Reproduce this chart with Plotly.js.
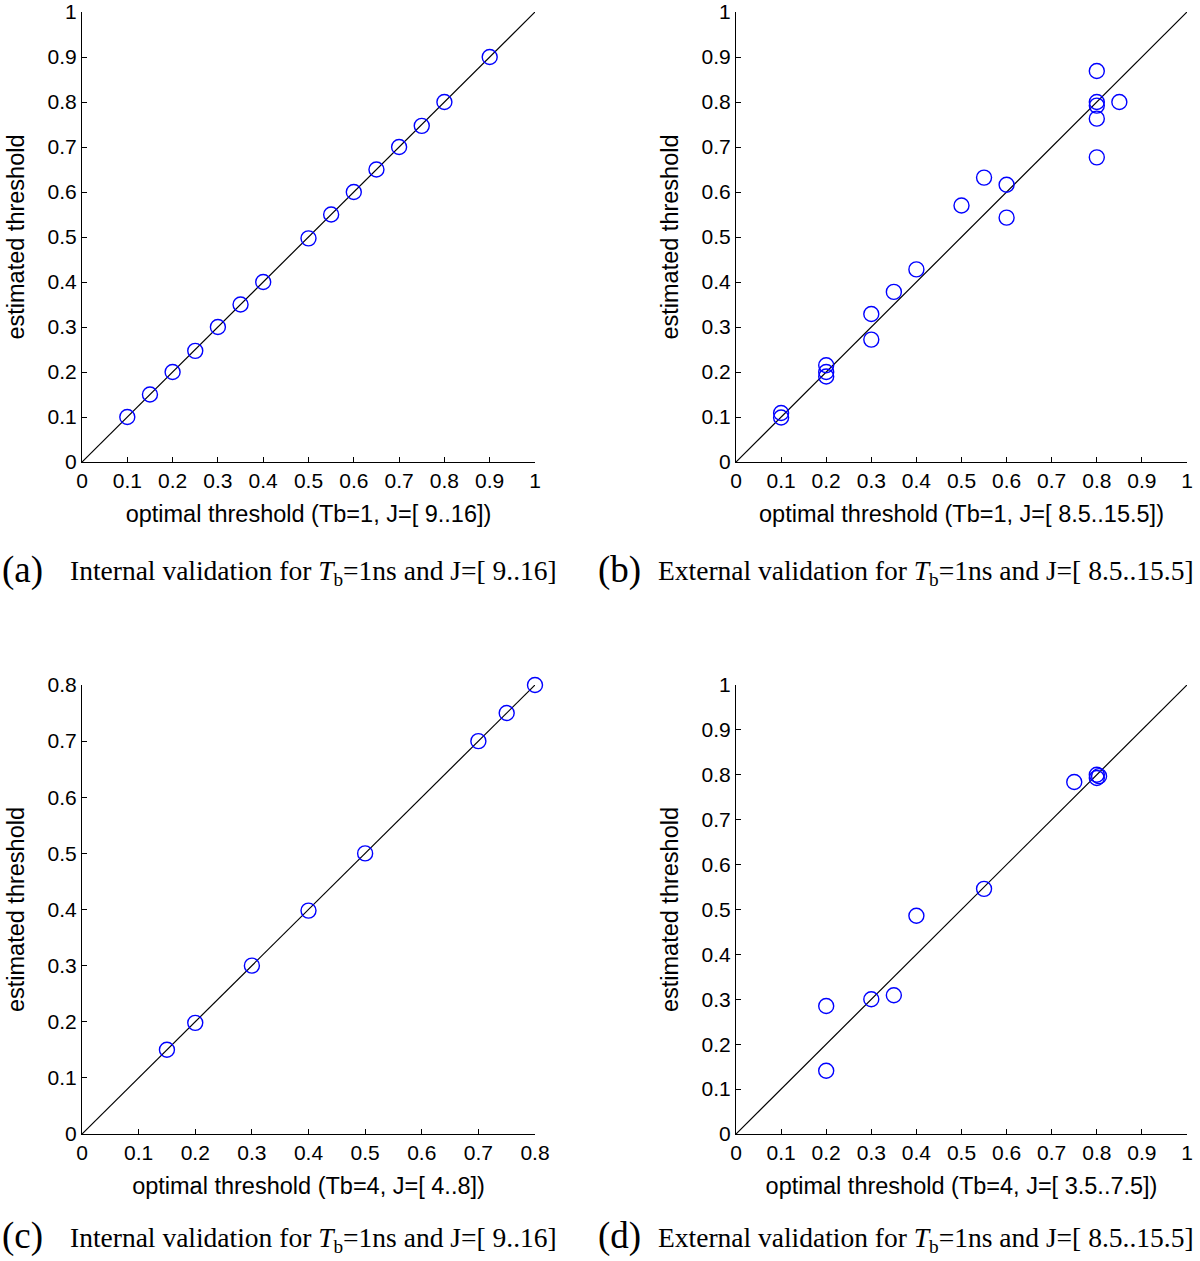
<!DOCTYPE html>
<html>
<head>
<meta charset="utf-8">
<script src="https://cdn.plot.ly/plotly-3.0.1.min.js"></script>
<style>html,body{margin:0;padding:0;background:#fff;}#chart{width:1200px;height:1261px;}</style>
</head>
<body>
<div id="chart"></div>
<script>
// (a) internal validation, Tb=1
const aOptimal   = [0.10, 0.15, 0.20, 0.25, 0.30, 0.35, 0.40, 0.50, 0.55, 0.60, 0.65, 0.70, 0.75, 0.80, 0.90];
const aEstimated = [0.10, 0.15, 0.20, 0.247, 0.30, 0.35, 0.40, 0.497, 0.55, 0.60, 0.65, 0.70, 0.747, 0.80, 0.90];
// (b) external validation, Tb=1
const bOptimal   = [0.10, 0.10, 0.20, 0.20, 0.20, 0.30, 0.30, 0.35, 0.40, 0.50, 0.55, 0.60, 0.60, 0.80, 0.80, 0.80, 0.80, 0.80, 0.85];
const bEstimated = [0.109, 0.099, 0.215, 0.200, 0.190, 0.329, 0.272, 0.378, 0.428, 0.570, 0.632, 0.616, 0.543, 0.869, 0.800, 0.792, 0.763, 0.677, 0.800];
// (c) internal validation, Tb=4
const cOptimal   = [0.15, 0.20, 0.30, 0.40, 0.50, 0.70, 0.75, 0.80];
const cEstimated = [0.15, 0.198, 0.30, 0.398, 0.50, 0.70, 0.75, 0.80];
// (d) external validation, Tb=4
const dOptimal   = [0.20, 0.20, 0.30, 0.35, 0.40, 0.55, 0.75, 0.80, 0.80, 0.805];
const dEstimated = [0.285, 0.141, 0.300, 0.309, 0.486, 0.546, 0.784, 0.800, 0.793, 0.797];
// identity reference lines
const identityFull  = [0, 1];
const identityShort = [0, 0.8];

const xTitles = ["optimal threshold (Tb=1, J=[ 9..16])", "optimal threshold (Tb=1, J=[ 8.5..15.5])",
                 "optimal threshold (Tb=4, J=[ 4..8])", "optimal threshold (Tb=4, J=[ 3.5..7.5])"];
const yTitle = "estimated threshold";
const captionLetters = ["(a)", "(b)", "(c)", "(d)"];
const captionTexts = [
  "Internal validation for <i>T</i><sub>b</sub>=1ns and J=[ 9..16]",
  "External validation for <i>T</i><sub>b</sub>=1ns and J=[ 8.5..15.5]",
  "Internal validation for <i>T</i><sub>b</sub>=1ns and J=[ 9..16]",
  "External validation for <i>T</i><sub>b</sub>=1ns and J=[ 8.5..15.5]"
];

const W = 1200, H = 1261;
const px = v => v / W;
const py = v => 1 - v / H;

const blue = 'rgb(0,0,255)';
function scatter(x, y, n) {
  return {x: x, y: y, xaxis: 'x' + (n === 1 ? '' : n), yaxis: 'y' + (n === 1 ? '' : n),
    type: 'scatter', mode: 'markers', cliponaxis: false,
    marker: {symbol: 'circle-open', size: 15, color: blue, line: {width: 1.4, color: blue}},
    hoverinfo: 'x+y', showlegend: false};
}
function diag(v, n) {
  return {x: v, y: v, xaxis: 'x' + (n === 1 ? '' : n), yaxis: 'y' + (n === 1 ? '' : n),
    type: 'scatter', mode: 'lines', cliponaxis: false, line: {color: 'black', width: 1.2}, hoverinfo: 'skip', showlegend: false};
}

const data = [
  diag(identityFull, 1), scatter(aOptimal, aEstimated, 1),
  diag(identityFull, 2), scatter(bOptimal, bEstimated, 2),
  diag(identityShort, 3), scatter(cOptimal, cEstimated, 3),
  diag(identityFull, 4), scatter(dOptimal, dEstimated, 4)
];

const sans = 'Liberation Sans, Arial, Helvetica, sans-serif';
const serif = 'Liberation Serif, Times New Roman, serif';

function axis(domain, range, anchor, title, isX) {
  return {
    domain: domain, range: range, anchor: anchor,
    showline: true, linecolor: 'black', linewidth: 1, mirror: false,
    showgrid: false, zeroline: false,
    ticks: 'inside', ticklen: 5, tickwidth: 1, tickcolor: 'black',
    tick0: 0, dtick: 0.1, tickfont: {family: sans, size: 21, color: 'black'},
    title: {text: title, font: {family: sans, size: 23.5, color: 'black'}, standoff: isX ? 14 : 16},
    fixedrange: true
  };
}

const xL = [px(82), px(535)], xR = [px(736), px(1187)];
const yT = [py(462), py(12)], yB = [py(1134), py(685)];

const layout = {
  width: W, height: H,
  margin: {l: 0, r: 0, t: 0, b: 0},
  paper_bgcolor: 'white', plot_bgcolor: 'white',
  showlegend: false,
  xaxis:  axis(xL, [0, 1], 'y', xTitles[0], true),
  yaxis:  axis(yT, [0, 1], 'x', yTitle, false),
  xaxis2: axis(xR, [0, 1], 'y2', xTitles[1], true),
  yaxis2: axis(yT, [0, 1], 'x2', yTitle, false),
  xaxis3: axis(xL, [0, 0.8], 'y3', xTitles[2], true),
  yaxis3: axis(yB, [0, 0.8], 'x3', yTitle, false),
  xaxis4: axis(xR, [0, 1], 'y4', xTitles[3], true),
  yaxis4: axis(yB, [0, 1], 'x4', yTitle, false),
  annotations: []
};

const capPos = [[0, 68, 570], [596, 656, 570], [0, 68, 1236], [596, 656, 1236]];
for (let i = 0; i < 4; i++) {
  const [lx, tx, cy] = capPos[i];
  layout.annotations.push({
    xref: 'paper', yref: 'paper', x: px(lx), y: py(cy), xanchor: 'left', yanchor: 'middle',
    text: captionLetters[i], showarrow: false, font: {family: serif, size: 37, color: 'black'}
  });
  layout.annotations.push({
    xref: 'paper', yref: 'paper', x: px(tx), y: py(cy + 3), xanchor: 'left', yanchor: 'middle',
    text: captionTexts[i], showarrow: false, font: {family: serif, size: 27.5, color: 'black'}
  });
}

Plotly.newPlot('chart', data, layout, {staticPlot: true, displayModeBar: false});
</script>
</body>
</html>
